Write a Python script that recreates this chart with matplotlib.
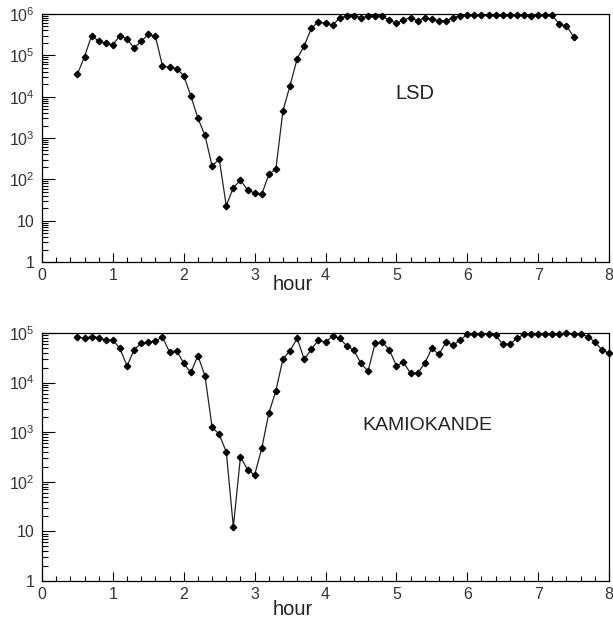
import numpy as np
import matplotlib
matplotlib.use("Agg")
import matplotlib.pyplot as plt
from matplotlib.ticker import FixedLocator, LogLocator, FuncFormatter, NullFormatter

plt.rcParams['font.family'] = ['Liberation Sans', 'DejaVu Sans']

# --- data ---------------------------------------------------------------
lsd_hours = np.round(np.arange(0.5, 7.51, 0.1), 1)
lsd_counts = [
    3.5e4, 9.3e4, 3.0e5, 2.2e5, 1.95e5, 1.8e5, 3.0e5, 2.5e5, 1.5e5, 2.2e5,
    3.2e5, 2.9e5, 5.5e4, 5.1e4, 4.8e4, 3.2e4, 1.05e4, 3.0e3, 1.15e3, 210,
    310, 23, 63, 95, 56, 46, 43, 132, 178, 4.6e3,
    1.86e4, 8.3e4, 1.7e5, 4.5e5, 6.5e5, 5.9e5, 5.4e5, 7.9e5, 9.1e5, 9.1e5,
    8.2e5, 8.7e5, 9.1e5, 8.7e5, 7.2e5, 5.9e5, 7.2e5, 8.2e5, 6.8e5, 8.2e5,
    7.6e5, 6.8e5, 6.8e5, 8.2e5, 9.1e5, 9.2e5, 9.2e5, 9.2e5, 9.2e5, 9.2e5,
    9.2e5, 9.2e5, 9.2e5, 9.2e5, 8.7e5, 9.2e5, 9.2e5, 9.2e5, 5.6e5, 5.2e5,
    2.8e5,
]

kam_hours = np.round(np.arange(0.5, 8.01, 0.1), 1)
kam_counts = [
    8.5e4, 7.8e4, 8.5e4, 8.1e4, 7.2e4, 7.2e4, 4.9e4, 2.15e4, 4.6e4, 6.2e4,
    6.5e4, 6.9e4, 8.3e4, 4.1e4, 4.4e4, 2.45e4, 1.6e4, 3.5e4, 1.35e4, 1.26e3,
    910, 400, 12.3, 320, 175, 138, 470, 2.4e3, 6.9e3, 3.0e4,
    4.4e4, 7.8e4, 2.95e4, 4.7e4, 7.2e4, 6.5e4, 8.7e4, 7.8e4, 5.5e4, 4.5e4,
    2.45e4, 1.7e4, 6.2e4, 6.6e4, 4.6e4, 2.2e4, 2.55e4, 1.55e4, 1.55e4, 2.45e4,
    4.9e4, 3.7e4, 6.6e4, 5.7e4, 7.2e4, 9.4e4, 9.4e4, 9.4e4, 9.4e4, 9.2e4,
    5.9e4, 5.9e4, 7.8e4, 9.4e4, 9.4e4, 9.4e4, 9.4e4, 9.4e4, 9.4e4, 9.8e4,
    9.4e4, 9.4e4, 8.5e4, 6.6e4, 4.6e4, 3.9e4,
]

x_ticks = [0, 1, 2, 3, 4, 5, 6, 7, 8]


def ylab(v, pos):
    e = int(round(np.log10(v)))
    if e == 0:
        return "1"
    if e == 1:
        return "10"
    return r"$\mathregular{10^{%d}}$" % e


def style_panel(ax, ymax):
    ax.set_xlim(0, 8)
    ax.set_ylim(1, ymax)
    ax.set_yscale("log")
    ax.xaxis.set_major_locator(FixedLocator(x_ticks))
    ax.xaxis.set_minor_locator(FixedLocator(np.arange(0, 8.01, 0.2)))
    ax.yaxis.set_major_locator(LogLocator(base=10, numticks=10))
    ax.yaxis.set_minor_locator(LogLocator(base=10, subs=np.arange(2, 10), numticks=20))
    ax.yaxis.set_major_formatter(FuncFormatter(ylab))
    ax.yaxis.set_minor_formatter(NullFormatter())
    ax.tick_params(axis="both", which="both", direction="in",
                   top=False, right=False, colors="black",
                   labelcolor="#333333", labelsize=11.5, width=0.8)
    ax.tick_params(axis="x", which="major", length=6.5, pad=4)
    ax.tick_params(axis="x", which="minor", length=3.6)
    ax.tick_params(axis="y", which="major", length=9, pad=5.5)
    ax.tick_params(axis="y", which="minor", length=4.5)
    for s in ax.spines.values():
        s.set_linewidth(0.9)


fig = plt.figure(figsize=(6.13, 6.19), dpi=100)
ax1 = fig.add_axes([0.0685, 0.5767, 0.925, 0.4007])
ax2 = fig.add_axes([0.0685, 0.0614, 0.925, 0.4006])

ax1.plot(lsd_hours, lsd_counts, "-", color="#222222", linewidth=0.9,
         marker="D", markersize=3.3, markerfacecolor="black",
         markeredgecolor="black", clip_on=False)
style_panel(ax1, 1e6)
ax1.text(0.658, 0.681, "LSD", transform=ax1.transAxes, fontsize=14.5,
         color="#222222", ha="center", va="center")
ax1.text(0.443, -0.09, "hour", transform=ax1.transAxes, fontsize=14.5,
         color="#222222", ha="center", va="center")

ax2.plot(kam_hours, kam_counts, "-", color="#222222", linewidth=0.9,
         marker="D", markersize=3.3, markerfacecolor="black",
         markeredgecolor="black", clip_on=False)
style_panel(ax2, 1e5)
ax2.text(0.679, 0.627, "KAMIOKANDE", transform=ax2.transAxes, fontsize=14,
         color="#222222", ha="center", va="center")
ax2.text(0.443, -0.114, "hour", transform=ax2.transAxes, fontsize=14.5,
         color="#222222", ha="center", va="center")

fig.savefig("out.png", dpi=100)
